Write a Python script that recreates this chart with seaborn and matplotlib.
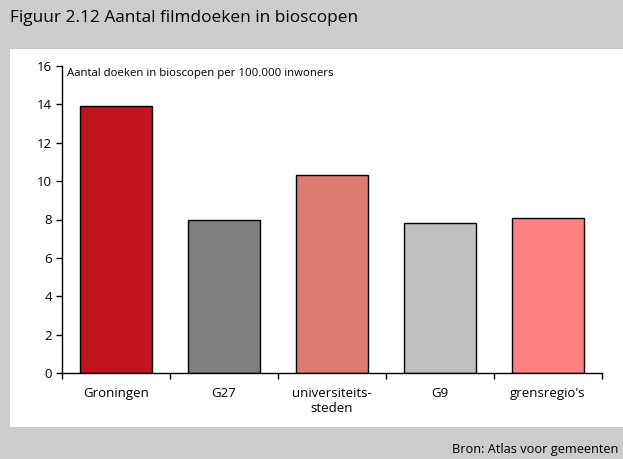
import matplotlib
matplotlib.use("Agg")
import matplotlib.pyplot as plt
import seaborn as sns
import pandas as pd
from matplotlib.patches import Rectangle
from matplotlib.ticker import FixedLocator

categories = ["Groningen", "G27", "universiteits-\nsteden", "G9", "grensregio's"]
values = [13.9, 8.0, 10.3, 7.8, 8.1]
colors = ["#c0141f", "#808080", "#dd7b70", "#c0c0c0", "#ff8080"]
yticks = [0, 2, 4, 6, 8, 10, 12, 14, 16]

sns.set_style("white")
plt.rcParams['font.family'] = ['Open Sans', 'DejaVu Sans']
plt.rcParams['text.color'] = 'black'
plt.rcParams['xtick.color'] = 'black'
plt.rcParams['ytick.color'] = 'black'

W, H = 623, 459
fig = plt.figure(figsize=(W / 100, H / 100), dpi=100)
fig.patch.set_facecolor("#cccccc")
fig.patches.append(Rectangle((10 / W, 1 - 427 / H), 1 - 10 / W, (427 - 49) / H,
                             transform=fig.transFigure, facecolor="white",
                             edgecolor="none", zorder=-5))

ax = fig.add_axes([62 / W, 1 - 373 / H, 540 / W, (373 - 66) / H])
ax.set_zorder(2)
ax.set_facecolor("none")

df = pd.DataFrame({"cat": categories, "val": values})
sns.barplot(data=df, x="cat", y="val", hue="cat", palette=colors, legend=False,
            width=0.66, edgecolor="black", linewidth=1.0, ax=ax, saturation=1)

ax.set_xlim(-0.5, 4.5)
ax.set_ylim(0, 16)
ax.set_yticks(yticks)
ax.set_xlabel("")
ax.set_ylabel("")
for s in ["top", "right"]:
    ax.spines[s].set_visible(False)
for s in ["left", "bottom"]:
    ax.spines[s].set_color("black")
    ax.spines[s].set_linewidth(1.0)

ax.tick_params(axis="y", direction="out", length=4, width=1, color="black",
               labelsize=9.5, pad=3, left=True, labelcolor="black")
ax.tick_params(axis="x", which="major", length=0, labelsize=9.5, pad=10,
               labelcolor="black")
ax.xaxis.set_minor_locator(FixedLocator([-0.5 + i for i in range(6)]))
ax.tick_params(axis="x", which="minor", direction="out", length=4, width=1,
               color="black", bottom=True)

ax.text(0.01, 0.975, "Aantal doeken in bioscopen per 100.000 inwoners",
        transform=ax.transAxes, fontsize=8.2, va="center", ha="left",
        color="black")

fig.text(10 / W, 1 - 18 / H, "Figuur 2.12 Aantal filmdoeken in bioscopen",
         fontsize=12.4, va="center", ha="left", color="black")
fig.text(618 / W, 1 - 449 / H, "Bron: Atlas voor gemeenten",
         fontsize=9.2, va="center", ha="right", color="black")

fig.savefig("out.png", dpi=100, facecolor=fig.get_facecolor())
